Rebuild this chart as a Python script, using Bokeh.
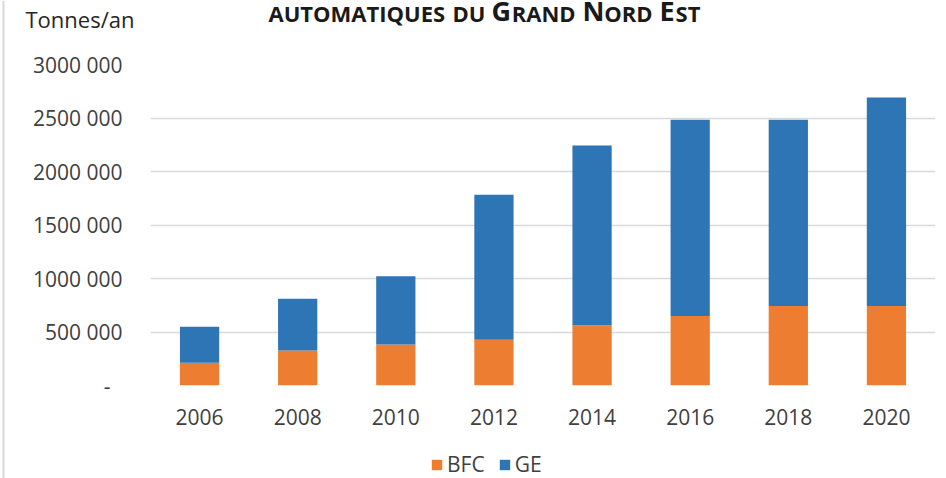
from bokeh.plotting import figure
from bokeh.layouts import column, row
from bokeh.models import (Range1d, FactorRange, FixedTicker, Legend, LegendItem,
                          Label, Span, ColumnDataSource)
from bokeh.embed import file_html
from bokeh.resources import INLINE

# ---- data ----
years = ["2006", "2008", "2010", "2012", "2014", "2016", "2018", "2020"]
bfc = [212000, 328000, 384000, 427000, 562000, 649000, 743000, 743000]
ge = [337000, 483000, 637000, 1356000, 1682000, 1835000, 1741000, 1949000]
series = ["BFC", "GE"]
y_ticks = [0, 500000, 1000000, 1500000, 2000000, 2500000, 3000000]
y_labels = ["-\u2007", "500 000", "1000 000", "1500 000", "2000 000", "2500 000", "3000 000"]
unit_label = "Tonnes/an"
# title words in small caps: (large initial, small-cap rest)
title_words = [("", "AUTOMATIQUES"), ("", "DU"), ("G", "RAND"), ("N", "ORD"), ("E", "ST")]

ORANGE = "#ED7D31"
BLUE = "#2E75B6"
FONT = "Open Sans"
TXT = "#404040"
GRID = "#d9d9d9"

W_TOTAL = 941
H_HEAD = 40
H_FOOT = 40
H_MAIN = 478 - H_HEAD - H_FOOT


def blank(width, height, x_range=None):
    f = figure(width=width, height=height,
               x_range=x_range if x_range is not None else Range1d(0, width),
               y_range=Range1d(0, height),
               output_backend="svg", toolbar_location=None, x_axis_type=None, y_axis_type=None,
               min_border=0, min_border_left=0, min_border_right=0, min_border_top=0,
               min_border_bottom=0, frame_align=False)
    f.outline_line_color = None
    f.grid.visible = False
    f.background_fill_color = "white"
    f.border_fill_color = "white"
    return f


source = ColumnDataSource(dict(year=years, BFC=bfc, GE=ge))

# ---- left chart border ----
edge = blank(5, 478)
edge.add_layout(Span(location=3, dimension="height", line_color=GRID, line_width=2))

# ---- header (unit label + title) ----
head = blank(W_TOTAL, H_HEAD)
head.add_layout(Label(x=20, y=21.5, text=unit_label, text_font=FONT, text_font_size="22px",
                      text_color="#262626", text_baseline="middle"))
WID = {"E": 0.556, "G": 0.711, "N": 0.765}
SMALL, LARGE = 22, 27
BASE = 40 - 20.7                      # title baseline (from the header bottom)
word_x = [263, 447, 486, 577, 654]    # word start positions in the header


def mid(size):
    return BASE + 0.388 * size


for (big, rest), wx in zip(title_words, word_x):
    x = wx
    if big:
        head.add_layout(Label(x=x, y=mid(LARGE), text=big, text_font=FONT,
                              text_font_size=f"{LARGE}px", text_font_style="bold",
                              text_color="#1a1a1a", text_baseline="middle"))
        x += WID[big] * LARGE + 1
    head.add_layout(Label(x=x, y=mid(SMALL), text=rest, text_font=FONT,
                          text_font_size=f"{SMALL}px", text_font_style="bold",
                          text_color="#1a1a1a", text_baseline="middle"))

# ---- main chart ----
p = figure(x_range=FactorRange(*years), y_range=Range1d(0, 3000000),
           width=W_TOTAL, height=H_MAIN, output_backend="svg", toolbar_location=None,
           min_border_left=145, min_border_right=11, min_border_top=24, min_border_bottom=53,
           frame_align=False)
p.outline_line_color = None
p.background_fill_color = "white"
p.border_fill_color = "white"

rs = p.vbar_stack(series, x="year", width=0.4, fill_color=[ORANGE, BLUE],
                  line_color=None, source=source)

for ax in (p.xaxis, p.yaxis):
    ax.axis_line_color = None
    ax.major_tick_line_color = None
    ax.minor_tick_line_color = None
    ax.major_tick_out = 0
    ax.major_tick_in = 0
    ax.major_label_text_font = FONT
    ax.major_label_text_font_size = "21px"
    ax.major_label_text_color = TXT
p.xaxis.major_label_standoff = 23
p.yaxis.major_label_standoff = 28
p.yaxis.ticker = FixedTicker(ticks=y_ticks)
p.yaxis.major_label_overrides = {t: l for t, l in zip(y_ticks, y_labels)}

p.xgrid.grid_line_color = None
p.ygrid.grid_line_color = GRID
p.ygrid.grid_line_width = 1.5

# ---- footer legend (legend swatches come from hidden copies of the stacked bars) ----
foot = blank(W_TOTAL, H_FOOT, x_range=FactorRange(*years))
lr = foot.vbar_stack(series, x="year", width=0.4, fill_color=[ORANGE, BLUE],
                     line_color=None, source=source, visible=False)
legend = Legend(items=[LegendItem(label=s, renderers=[r]) for s, r in zip(series, lr)],
                orientation="horizontal", location=(425, 0), glyph_width=13, glyph_height=13,
                label_standoff=4, spacing=13, padding=0, margin=0, border_line_color=None,
                background_fill_alpha=0, label_text_font=FONT, label_text_font_size="21px",
                label_text_color=TXT)
foot.add_layout(legend)

layout = row(edge, column(head, p, foot))
open("out.html", "w").write(file_html(layout, INLINE))
